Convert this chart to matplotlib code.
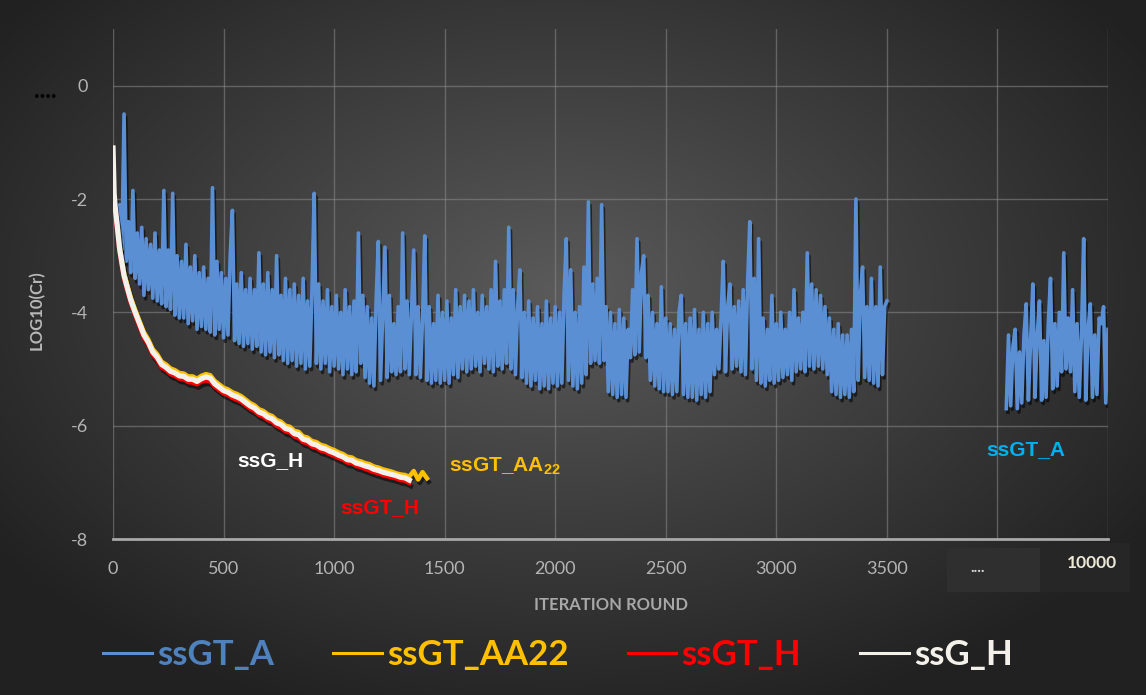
import matplotlib.pyplot as plt
import matplotlib.patheffects as pe
from matplotlib.patches import Rectangle
import numpy as np

# ssGT_A, one value every 10 rounds from 10 to 3500
ssgt_a_main = [
    -2.0, -2.6, -2.1, -2.9, -0.5, -3.1, -2.4, -3.3, -1.85, -3.4,
    -2.6, -3.5, -2.5, -3.7, -2.7, -3.6, -2.8, -3.75, -2.6, -3.8,
    -2.9, -3.85, -1.85, -3.9, -2.9, -3.95, -1.9, -4.05, -3.0, -4.1,
    -3.1, -4.1, -2.8, -4.2, -3.2, -4.15, -3.0, -4.3, -3.3, -4.25,
    -3.2, -4.3, -3.4, -4.35, -1.8, -4.4, -3.1, -4.3, -3.3, -4.45,
    -3.4, -4.4, -3.0, -2.2, -4.5, -3.5, -4.55, -3.3, -4.6, -3.6,
    -4.55, -3.4, -4.65, -3.6, -4.6, -2.95, -4.7, -3.5, -4.75, -3.3,
    -4.7, -3.6, -4.8, -3.0, -4.75, -3.7, -4.85, -3.4, -4.9, -3.6,
    -4.85, -3.5, -4.95, -3.7, -4.9, -3.4, -5.0, -3.8, -4.95, -3.6,
    -1.9, -4.9, -3.5, -5.0, -3.8, -4.9, -3.6, -5.05, -3.9, -4.95,
    -3.7, -5.0, -4.0, -5.1, -3.6, -5.0, -3.9, -5.1, -3.8, -5.05,
    -2.6, -4.9, -3.7, -5.15, -3.9, -5.25, -4.1, -5.3, -3.8, -2.75,
    -5.2, -4.0, -2.85, -5.15, -3.7, -5.05, -4.2, -5.1, -3.9, -5.05,
    -2.6, -5.0, -3.8, -5.1, -4.0, -2.9, -5.1, -3.9, -5.15, -4.1,
    -2.65, -5.2, -3.9, -5.25, -4.2, -5.2, -3.7, -5.25, -4.0, -5.2,
    -3.8, -5.25, -4.1, -5.1, -3.6, -5.15, -3.9, -5.0, -3.7, -5.05,
    -3.8, -5.0, -3.6, -4.95, -4.0, -5.05, -3.7, -4.9, -3.9, -5.0,
    -3.6, -5.05, -3.1, -4.95, -3.8, -5.0, -3.6, -4.9, -2.5, -5.0,
    -3.6, -5.1, -3.9, -3.25, -5.15, -4.0, -5.25, -3.8, -5.3, -4.1,
    -5.2, -3.9, -5.35, -4.2, -5.3, -3.8, -5.35, -4.1, -5.25, -3.9,
    -5.3, -4.0, -5.25, -3.7, -2.7, -5.2, -3.25, -5.3, -4.0, -5.35,
    -3.9, -5.25, -3.2, -5.1, -2.05, -4.9, -3.5, -4.85, -3.4, -4.9,
    -2.1, -4.85, -3.9, -5.4, -4.0, -5.45, -4.2, -5.5, -3.95, -5.45,
    -4.1, -5.5, -4.3, -4.8, -3.6, -4.75, -2.7, -4.7, -3.3, -3.0,
    -4.8, -3.7, -5.2, -4.0, -5.3, -4.2, -5.35, -3.55, -5.4, -4.1,
    -5.4, -4.2, -5.45, -4.3, -5.4, -4.0, -3.7, -5.45, -4.2, -5.5,
    -4.1, -5.5, -3.95, -5.55, -4.3, -5.45, -4.0, -5.5, -4.2, -5.4,
    -4.0, -5.1, -4.3, -5.0, -4.1, -3.1, -5.05, -3.9, -3.5, -5.0,
    -3.9, -4.95, -3.8, -5.05, -3.6, -5.1, -3.5, -2.4, -5.0, -3.4,
    -5.2, -2.7, -5.25, -4.1, -5.3, -4.3, -5.2, -3.7, -5.25, -4.2,
    -5.2, -4.0, -5.15, -4.3, -5.1, -4.0, -5.2, -3.6, -5.05, -4.1,
    -5.0, -4.0, -5.05, -2.95, -4.95, -3.5, -5.0, -3.6, -4.95, -3.7,
    -5.0, -3.9, -5.1, -4.1, -5.4, -4.3, -5.45, -4.2, -5.5, -4.4,
    -5.45, -4.4, -5.5, -4.3, -5.4, -2.0, -5.2, -3.7, -3.2, -5.15,
    -3.9, -5.2, -3.4, -5.25, -3.9, -5.3, -3.2, -5.1, -3.9, -3.8,
]
# ssGT_A after the axis break, drawn at 4040..4500 (stands for the rounds up to 10000)
ssgt_a_tail = [
    -5.7, -4.4, -5.65, -4.6, -4.3, -5.7, -4.7, -5.6, -4.4, -3.85,
    -5.55, -4.5, -3.5, -5.5, -4.4, -3.8, -5.55, -4.5, -5.5, -4.2,
    -3.4, -5.35, -4.2, -5.3, -4.0, -5.05, -2.95, -5.0, -4.1, -5.05,
    -3.6, -5.4, -4.2, -5.5, -4.4, -2.7, -5.55, -4.3, -3.85, -5.5,
    -4.4, -5.45, -4.1, -4.2, -3.9, -5.6, -4.3,
]
a_main_rounds = np.arange(10, 3510, 10)
a_tail_rounds = np.arange(4040, 4510, 10)

h_rounds = [0, 5, 10, 20, 30, 40, 50, 60] + list(range(80, 1360, 20))
ssg_h = [
    -1.1, -1.9, -2.15, -2.5, -2.88, -3.12, -3.35, -3.5,
    -3.78, -4.0, -4.2, -4.4, -4.53, -4.7, -4.79, -4.92, -4.97, -5.04,
    -5.07, -5.12, -5.13, -5.18, -5.18, -5.22, -5.17, -5.14, -5.16, -5.26,
    -5.32, -5.38, -5.41, -5.46, -5.49, -5.53, -5.59, -5.65, -5.69, -5.76,
    -5.79, -5.85, -5.88, -5.95, -5.98, -6.05, -6.07, -6.14, -6.16, -6.24,
    -6.26, -6.32, -6.34, -6.39, -6.41, -6.45, -6.48, -6.52, -6.55, -6.6,
    -6.61, -6.66, -6.68, -6.71, -6.73, -6.77, -6.79, -6.82, -6.84, -6.86,
    -6.88, -6.91, -6.92, -6.96,
]
ssgt_h = [
    -1.9, -2.05, -2.25, -2.58, -2.94, -3.17, -3.4, -3.55,
    -3.83, -4.05, -4.25, -4.45, -4.58, -4.75, -4.84, -4.97, -5.02, -5.09,
    -5.12, -5.17, -5.18, -5.23, -5.24, -5.27, -5.22, -5.2, -5.22, -5.31,
    -5.37, -5.43, -5.46, -5.51, -5.54, -5.58, -5.64, -5.7, -5.74, -5.81,
    -5.84, -5.9, -5.93, -6.0, -6.04, -6.1, -6.12, -6.19, -6.22, -6.29,
    -6.31, -6.37, -6.39, -6.44, -6.46, -6.5, -6.53, -6.57, -6.6, -6.65,
    -6.66, -6.71, -6.73, -6.76, -6.79, -6.82, -6.84, -6.87, -6.89, -6.91,
    -6.93, -6.96, -6.97, -7.01,
]
aa22_rounds = h_rounds + [1360, 1380, 1400, 1420]
ssgt_aa22 = [
    -2.0, -2.05, -2.2, -2.45, -2.83, -3.07, -3.3, -3.45,
    -3.73, -3.95, -4.15, -4.35, -4.48, -4.65, -4.74, -4.87, -4.92, -4.99,
    -5.02, -5.07, -5.08, -5.13, -5.13, -5.17, -5.12, -5.09, -5.11, -5.21,
    -5.27, -5.33, -5.36, -5.41, -5.44, -5.48, -5.54, -5.6, -5.64, -5.71,
    -5.74, -5.8, -5.83, -5.9, -5.93, -6.0, -6.02, -6.09, -6.11, -6.19,
    -6.21, -6.27, -6.29, -6.34, -6.36, -6.4, -6.43, -6.47, -6.5, -6.55,
    -6.56, -6.61, -6.63, -6.66, -6.68, -6.72, -6.74, -6.77, -6.79, -6.81,
    -6.84, -6.86, -6.87, -6.9, -6.8, -6.95, -6.82, -6.93,
]

x_ticks = [0, 500, 1000, 1500, 2000, 2500, 3000, 3500, 4000, 4500]
x_labels = ["0", "500", "1000", "1500", "2000", "2500", "3000", "3500", "", ""]
y_ticks = [0, -2, -4, -6, -8]

BLUE = "#5b8fd4"
YELLOW = "#ffc000"
RED = "#ff0000"
WHITE = "#f4f1ea"
GREY = "#b4b4b4"

plt.rcParams["font.family"] = ["Lato", "DejaVu Sans"]
plt.rcParams["axes.unicode_minus"] = False

fig = plt.figure(figsize=(11.46, 6.95), dpi=100)

# dark radial background like the Excel style
bg = fig.add_axes([0, 0, 1, 1], zorder=-10)
bg.axis("off")
yy, xx = np.mgrid[0:695, 0:1146]
r = np.sqrt(((xx - 560) / 620.0) ** 2 + ((yy - 290) / 400.0) ** 2)
shade = np.clip(0.355 - 0.2 * r, 0.13, 0.4)
bg.imshow(np.dstack([shade, shade, shade]), aspect="auto", interpolation="bilinear")

# patches hiding the 4000 / 4500 labels (axis break)
fig.patches.append(Rectangle((947 / 1146, 1 - 592 / 695), 93 / 1146, 44 / 695,
                             transform=fig.transFigure, fc="#2f2f2f", ec="none", zorder=-5))
fig.patches.append(Rectangle((1040 / 1146, 1 - 592 / 695), 90 / 1146, 49 / 695,
                             transform=fig.transFigure, fc="#262626", ec="none", zorder=-5))

ax = fig.add_axes([113 / 1146, 156 / 695, 995 / 1146, 510 / 695])
ax.set_facecolor("none")
ax.set_xlim(0, 4500)
ax.set_ylim(-8, 1)

shadow = [pe.SimpleLineShadow(offset=(1.2, -2.5), shadow_color="black", alpha=0.55), pe.Normal()]

ax.plot(a_main_rounds, ssgt_a_main, color=BLUE, lw=2.6, path_effects=shadow, zorder=3, label="ssGT_A")
ax.plot(a_tail_rounds, ssgt_a_tail, color=BLUE, lw=2.6, path_effects=shadow, zorder=3)
ax.plot(aa22_rounds, ssgt_aa22, color=YELLOW, lw=3.2, path_effects=shadow, zorder=4, label="ssGT_AA22")
ax.plot(h_rounds, ssgt_h, color=RED, lw=3.2, path_effects=shadow, zorder=5, label="ssGT_H")
ax.plot(h_rounds, ssg_h, color=WHITE, lw=3.8, zorder=6, label="ssG_H")

ax.set_xticks(x_ticks)
ax.set_xticklabels(x_labels)
ax.set_yticks(y_ticks)
ax.grid(True, color="#8a8a8a", lw=1.0, alpha=0.55)
ax.tick_params(length=0, colors=GREY, labelsize=13, pad=16)
ax.tick_params(axis="y", pad=18)
for s in ["left", "right", "top"]:
    ax.spines[s].set_visible(False)
ax.spines["bottom"].set_color("#a8a8a8")
ax.spines["bottom"].set_linewidth(2)

ax.set_xlabel("ITERATION ROUND", color="#a8a8a8", fontsize=12, fontweight="bold", labelpad=14)
ax.set_ylabel("LOG10(Cr)", color="#b8b8b8", fontsize=12, fontweight="bold", va="center")
ax.yaxis.set_label_coords(-76 / 995, 0.449)

# axis-break markers
fig.text(978 / 1146, 1 - 568 / 695, "....", color="#d8d8d8", fontsize=11, fontweight="bold",
         ha="center", va="center")
fig.text(1092 / 1146, 1 - 563 / 695, "10000", color="#ece8d6", fontsize=12.5, fontweight="bold",
         ha="center", va="center")
fig.text(45 / 1146, 1 - 90 / 695, "....", color="black", fontsize=17, fontweight="bold",
         ha="center", va="center")

# series labels
lab = dict(fontsize=15, fontweight="bold", family=["Liberation Sans", "DejaVu Sans"],
           ha="center", va="center", zorder=8)
ax.text(710, -6.61, "ssG_H", color="white", **lab)
ax.text(1208, -7.44, "ssGT_H", color=RED, **lab)
ax.text(1771, -6.72, "ssGT_AA$_{\\mathregular{22}}$", color=YELLOW, **lab)
ax.text(4127, -6.43, "ssGT_A", color="#00b0f0", **lab)

leg = ax.legend(loc="center", bbox_to_anchor=(558 / 1146, 1 - 655 / 695),
                bbox_transform=fig.transFigure, ncol=4, frameon=False,
                handlelength=1.4, handletextpad=0.15, columnspacing=1.7,
                prop=dict(family="Lato", weight="bold", size=25), labelcolor="linecolor")
for line in leg.get_lines():
    line.set_linewidth(2.2)
    line.set_path_effects([])
leg.get_texts()[0].set_color("#4f81bd")

fig.savefig("out.png", dpi=100)
